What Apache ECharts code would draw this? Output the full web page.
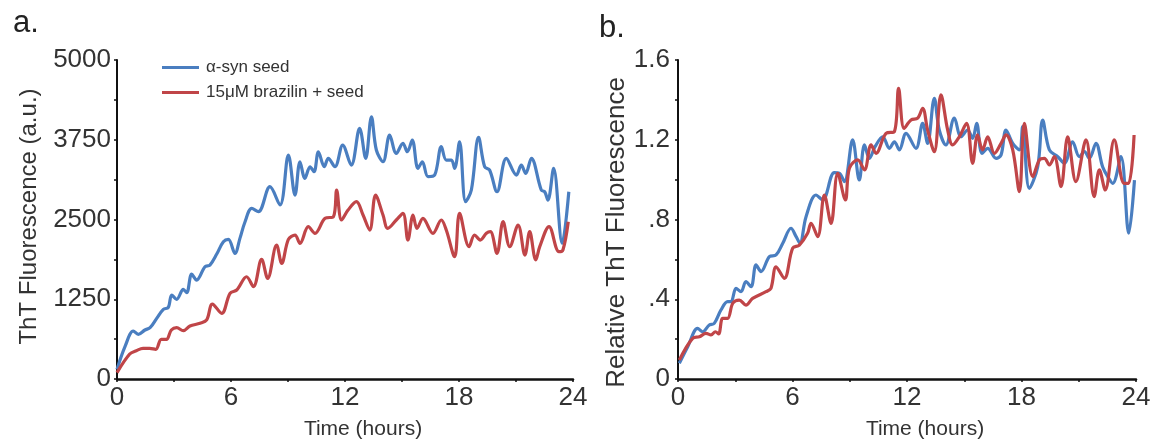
<!DOCTYPE html>
<html><head><meta charset="utf-8">
<script src="https://cdn.jsdelivr.net/npm/echarts@6/dist/echarts.min.js"></script>
<style>html,body{margin:0;padding:0;background:#fff}#c{width:1157px;height:445px}</style>
</head><body><div id="c"></div>
<script>
// ---- data (hours, value) ----
const seriesNames = ['α-syn seed', '15μM brazilin + seed'];
const xTicks = [0, 6, 12, 18, 24];
const yTicksA = [0, 1250, 2500, 3750, 5000];
const yTickLabelsB = ['0', '.4', '.8', '1.2', '1.6'];

const blueA = [[0,150],[0.42,506],[0.86,752],[1.12,700],[1.47,768],[1.74,804],[2.09,951],[2.44,1092],[2.70,1123],[2.88,1316],[3.14,1249],[3.49,1405],[3.67,1352],[3.93,1645],[4.19,1551],[4.63,1760],[4.89,1786],[5.25,1959],[5.60,2152],[5.86,2188],[6.21,1969],[6.47,2204],[6.74,2465],[7.09,2674],[7.44,2622],[8.05,3014],[8.58,2727],[9.02,3510],[9.37,2883],[9.63,3405],[9.89,3145],[10.16,3327],[10.37,3249],[10.60,3562],[10.91,3327],[11.12,3458],[11.47,3327],[11.88,3667],[12.33,3353],[12.77,3928],[13.09,3458],[13.39,4110],[13.65,3589],[14.0,3405],[14.35,3823],[14.70,3536],[15.05,3693],[15.28,3562],[15.54,3745],[15.84,3301],[16.07,3405],[16.37,3171],[16.72,3197],[17.07,3641],[17.33,3432],[17.60,3432],[17.77,3301],[18.03,3719],[18.35,2779],[18.65,2962],[19.03,3787],[19.35,3327],[19.61,3275],[20.0,2935],[20.49,3458],[21.02,3197],[21.28,3353],[21.51,3223],[21.81,3458],[22.33,2962],[22.51,2935],[22.68,2805],[22.98,3301],[23.43,2126],[23.78,2935]];
const redA = [[0,100],[0.67,392],[1.02,444],[1.37,480],[1.72,480],[2.04,465],[2.33,622],[2.6,622],[2.86,768],[3.14,804],[3.49,757],[3.84,830],[4.37,872],[4.72,925],[5.02,1175],[5.51,1029],[5.95,1343],[6.30,1395],[6.82,1603],[7.18,1447],[7.61,1875],[7.93,1577],[8.40,2100],[8.67,1812],[9.02,2188],[9.37,2256],[9.63,2126],[10.07,2387],[10.42,2283],[10.95,2518],[11.39,2544],[11.56,2962],[11.82,2492],[12.16,2648],[12.6,2779],[12.95,2570],[13.3,2335],[13.61,2883],[14.0,2570],[14.25,2361],[14.7,2492],[15.05,2596],[15.31,2178],[15.58,2570],[15.79,2361],[16.1,2518],[16.63,2283],[17.07,2492],[17.33,2335],[17.77,1917],[18.03,2596],[18.53,2074],[18.82,2257],[19.12,2178],[19.44,2283],[19.65,2309],[20.0,1969],[20.32,2466],[20.67,2074],[21.11,2414],[21.47,1943],[21.72,2309],[22.04,1865],[22.25,2074],[22.74,2388],[23.26,1995],[23.47,2022],[23.75,2466]];
const blueB = [[0.07,0.079],[0.51,0.162],[1.03,0.254],[1.29,0.237],[1.64,0.271],[1.9,0.279],[2.25,0.346],[2.6,0.388],[2.78,0.388],[3.04,0.455],[3.30,0.438],[3.56,0.488],[3.83,0.463],[4.09,0.572],[4.35,0.539],[4.79,0.614],[5.14,0.622],[5.49,0.681],[5.92,0.756],[6.19,0.714],[6.39,0.681],[6.71,0.814],[7.23,0.923],[7.58,0.898],[8.19,1.035],[8.45,1.032],[8.72,0.99],[9.15,1.199],[9.5,0.998],[9.77,1.174],[10.03,1.107],[10.32,1.164],[10.73,1.215],[11.08,1.157],[11.34,1.19],[11.6,1.149],[11.95,1.232],[12.47,1.157],[12.82,1.282],[13.08,1.182],[13.43,1.408],[13.69,1.249],[14.04,1.174],[14.48,1.308],[14.83,1.215],[15.18,1.249],[15.44,1.207],[15.65,1.282],[15.93,1.132],[16.23,1.157],[16.67,1.107],[16.93,1.124],[17.19,1.249],[17.54,1.182],[17.89,1.149],[18.06,1.266],[18.41,0.956],[18.85,1.065],[19.11,1.299],[19.46,1.149],[19.9,1.115],[20.25,1.082],[20.68,1.19],[21.03,1.115],[21.30,1.14],[21.56,1.107],[21.9,1.182],[22.25,1.065],[22.52,1.015],[22.78,0.981],[23.21,1.115],[23.62,0.731],[23.92,0.998]];
const redB = [[0.07,0.095],[0.77,0.204],[1.12,0.212],[1.47,0.229],[1.73,0.221],[1.96,0.237],[2.13,0.226],[2.34,0.304],[2.6,0.304],[2.87,0.38],[3.21,0.396],[3.56,0.371],[3.91,0.404],[4.61,0.438],[4.87,0.455],[5.14,0.563],[5.57,0.505],[6.01,0.656],[6.36,0.672],[6.79,0.731],[6.97,0.781],[7.32,0.714],[7.67,0.923],[8.02,0.781],[8.37,1.032],[8.77,0.898],[8.98,1.057],[9.42,1.099],[9.77,1.049],[10.12,1.174],[10.38,1.132],[10.90,1.232],[11.34,1.241],[11.56,1.458],[11.85,1.257],[12.21,1.299],[12.56,1.308],[12.82,1.358],[13.08,1.249],[13.43,1.14],[13.78,1.425],[14.13,1.249],[14.39,1.174],[14.74,1.215],[15.12,1.282],[15.44,1.082],[15.7,1.224],[15.96,1.149],[16.23,1.215],[16.58,1.132],[16.93,1.182],[17.19,1.224],[17.54,1.149],[17.89,0.94],[18.15,1.282],[18.59,1.015],[18.94,1.099],[19.2,1.107],[19.46,1.074],[19.72,1.115],[20.07,0.965],[20.42,1.215],[20.85,0.99],[21.38,1.199],[21.81,0.915],[22.08,1.049],[22.39,0.948],[22.86,1.199],[23.38,0.981],[23.61,0.981],[23.9,1.224]];

// ---- chart ----
const FONT = '"Liberation Sans", Arial, sans-serif';
const BLUE = '#4a7ec0', RED = '#c04548';
const chart = echarts.init(document.getElementById('c'), null, {renderer: 'canvas'});

function xAxis(gi) {
  return {
    type: 'value', gridIndex: gi, min: xTicks[0], max: xTicks[xTicks.length - 1], interval: 6,
    name: 'Time (hours)', nameLocation: 'middle', nameGap: 40,
    nameTextStyle: {fontFamily: FONT, fontSize: 21, color: '#333', padding: [0, 0, 0, 36]},
    axisLine: {lineStyle: {color: '#111', width: 2.5}},
    axisTick: {inside: false, length: 3, lineStyle: {color: '#111', width: 1.5}},
    minorTick: {show: true, splitNumber: 2, length: 3, lineStyle: {color: '#111', width: 1.5}},
    axisLabel: {fontFamily: FONT, fontSize: 26, color: '#333', margin: 6, formatter: (v) => String(v)},
    splitLine: {show: false}
  };
}

const option = {
  animation: false,
  backgroundColor: '#fff',
  grid: [
    {left: 117, top: 60, width: 456, height: 319},
    {left: 678, top: 60, width: 458, height: 319}
  ],
  legend: {
    data: seriesNames, orient: 'vertical', left: 157, top: 54,
    icon: 'rect', itemWidth: 37, itemHeight: 3, itemGap: 8,
    textStyle: {fontFamily: FONT, fontSize: 17, color: '#333', padding: [0, 0, 0, 2]}
  },
  title: [
    {text: 'a.', left: 8, top: 3, textStyle: {fontFamily: FONT, fontSize: 31, fontWeight: 'normal', color: '#222'}},
    {text: 'b.', left: 594, top: 8, textStyle: {fontFamily: FONT, fontSize: 31, fontWeight: 'normal', color: '#222'}}
  ],
  xAxis: [xAxis(0), xAxis(1)],
  yAxis: [
    {
      type: 'value', gridIndex: 0, min: yTicksA[0], max: yTicksA[yTicksA.length - 1], interval: 1250,
      name: 'ThT Fluorescence (a.u.)', nameLocation: 'middle', nameGap: 76, nameRotate: 90,
      nameTextStyle: {fontFamily: FONT, fontSize: 24, color: '#333', padding: [0, 0, 0, 6]},
      axisLine: {show: true, lineStyle: {color: '#111', width: 2}},
      axisTick: {show: true, length: 3, lineStyle: {color: '#111', width: 1.5}},
      minorTick: {show: true, splitNumber: 2, length: 3, lineStyle: {color: '#111', width: 1.5}},
      axisLabel: {fontFamily: FONT, fontSize: 26, color: '#333', margin: 6,
        formatter: (v) => String(yTicksA[Math.round(v / 1250)])},
      splitLine: {show: false}
    },
    {
      type: 'value', gridIndex: 1, min: 0, max: 1.6, interval: 0.4,
      name: 'Relative ThT Fluorescence', nameLocation: 'middle', nameGap: 48, nameRotate: 90,
      nameTextStyle: {fontFamily: FONT, fontSize: 26, color: '#333', padding: [0, 26, 0, 0]},
      axisLine: {show: true, lineStyle: {color: '#111', width: 2}},
      axisTick: {show: true, length: 3, lineStyle: {color: '#111', width: 1.5}},
      minorTick: {show: true, splitNumber: 2, length: 3, lineStyle: {color: '#111', width: 1.5}},
      axisLabel: {fontFamily: FONT, fontSize: 26, color: '#333', margin: 8,
        formatter: (v) => yTickLabelsB[Math.round(v / 0.4)]},
      splitLine: {show: false}
    }
  ],
  series: [
    {name: seriesNames[0], type: 'line', xAxisIndex: 0, yAxisIndex: 0, data: blueA, smooth: 0.35, symbol: 'none', z: 3,
      lineStyle: {color: BLUE, width: 3.2}, itemStyle: {color: BLUE}},
    {name: seriesNames[1], type: 'line', xAxisIndex: 0, yAxisIndex: 0, data: redA, smooth: 0.35, symbol: 'none', z: 3,
      lineStyle: {color: RED, width: 3.2}, itemStyle: {color: RED}},
    {name: seriesNames[0], type: 'line', xAxisIndex: 1, yAxisIndex: 1, data: blueB, smooth: 0.35, symbol: 'none', z: 2,
      lineStyle: {color: BLUE, width: 3.2}, itemStyle: {color: BLUE}},
    {name: seriesNames[1], type: 'line', xAxisIndex: 1, yAxisIndex: 1, data: redB, smooth: 0.35, symbol: 'none', z: 3,
      lineStyle: {color: RED, width: 3.2}, itemStyle: {color: RED}}
  ]
};
chart.setOption(option);
</script>
</body></html>
